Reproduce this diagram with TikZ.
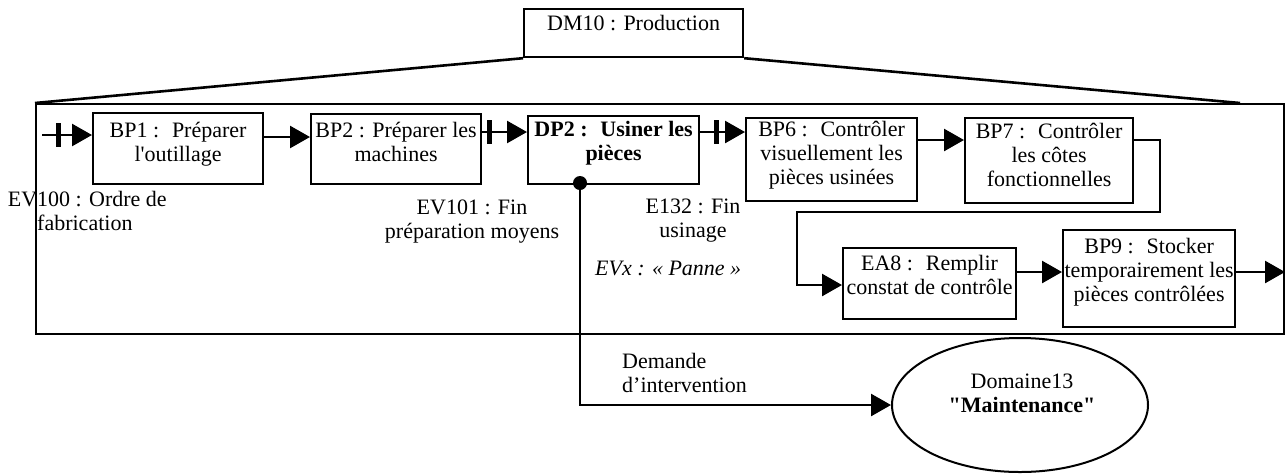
\documentclass[tikz,border=0pt]{standalone}
\usepackage{fontspec}
\setmainfont{Liberation Serif}
\usetikzlibrary{arrows.meta,shapes.geometric}
\newcommand{\dfont}{\fontsize{22}{24}\selectfont}
\begin{document}
\begin{tikzpicture}[x=1pt,y=-1pt,
  box/.style={draw, line width=2.2pt, anchor=north west, inner sep=0pt},
  txt/.style={font=\dfont, align=center, inner sep=0pt, execute at begin node={\dfont\strut}},
  conn/.style={line width=2.6pt},
  arr/.style={conn, -{Triangle[length=20pt,width=22pt]}},
  tickmark/.style={line width=5pt},
]
\useasboundingbox (0,0) rectangle (1288,475);
\fill[white] (0,0) rectangle (1288,475);

% domain header and frame
\node[box, minimum width=219pt, minimum height=48pt] (dm) at (523,8) {};
\node[txt, anchor=north] (dmt) at ([yshift=-5pt]dm.north) {DM10 : Production};
\node[draw, line width=2pt, anchor=north west, minimum width=1248pt, minimum height=230pt, inner sep=0pt] (frame) at (35,103) {};
\draw[line width=2.6pt] (dm.south west) -- (frame.north west);
\draw[line width=2.6pt] (dm.south east) -- ([xshift=-45pt]frame.north east);

% process boxes
\node[box, minimum width=170pt, minimum height=71pt] (bp1) at (92,112) {};
\node[box, minimum width=170pt, minimum height=70pt] (bp2) at (310,113) {};
\node[box, minimum width=171pt, minimum height=68pt] (dp2) at (527,115) {};
\node[box, minimum width=171pt, minimum height=83pt] (bp6) at (745,117) {};
\node[box, minimum width=168pt, minimum height=85pt] (bp7) at (964,117) {};
\node[box, minimum width=173pt, minimum height=71pt] (ea8) at (842,247) {};
\node[box, minimum width=172pt, minimum height=97pt] (bp9) at (1062,229) {};

\node[txt, anchor=north] (bp1t) at ([yshift=-10pt]bp1.north) {BP1 :~ Préparer\\l\textquotesingle outillage};
\node[txt, anchor=north] (bp2t) at ([yshift=-9pt]bp2.north) {BP2 : Préparer les\\machines};
\node[txt, anchor=north, font=\dfont\bfseries] (dp2t) at ([yshift=-6pt]dp2.north) {DP2 :~ Usiner les\\pièces};
\node[txt, anchor=north] (bp6t) at ([yshift=-4pt]bp6.north) {BP6 :~ Contrôler\\visuellement les\\pièces usinées};
\node[txt, anchor=north] (bp7t) at ([yshift=-6pt]bp7.north) {BP7 :~ Contrôler\\les côtes\\fonctionnelles};
\node[txt, anchor=north] (ea8t) at ([yshift=-8pt]ea8.north) {EA8 :~ Remplir\\constat de contrôle};
\node[txt, anchor=north] (bp9t) at ([yshift=-9pt]bp9.north) {BP9 :~ Stocker\\temporairement les\\pièces contrôlées};

% maintenance domain
\node[draw, ellipse, line width=2pt, minimum width=256pt, minimum height=134pt, inner sep=0pt] (ell) at (1020,405) {};
\node[txt, anchor=north] (ellt) at (1022,374) {Domaine13\\\textbf{\textquotedbl Maintenance\textquotedbl}};

% connectors
\coordinate (start) at (42,135);
\draw[arr] (start) -- coordinate[pos=0.32] (tk0) (bp1.west |- start);
\draw[arr] (bp1.east |- 0,137) -- (bp2.west |- 0,137);
\draw[arr] (bp2.east |- 0,132) -- coordinate[pos=0.17] (tk1) (dp2.west |- 0,132);
\draw[arr] (dp2.east |- 0,132) -- coordinate[pos=0.36] (tk2) (bp6.west |- 0,132);
\draw[arr] (bp6.east |- 0,140) -- (bp7.west |- 0,140);
\draw[arr] (bp7.east |- 0,140) -- (1160,140) -- (1160,212) -- (797,212) -- (797,285) -- (ea8.west |- 0,285);
\draw[arr] (ea8.east |- 0,272) -- (bp9.west |- 0,272);
\draw[arr] (bp9.east |- 0,272) -- (frame.east |- 0,272);
\foreach \t in {tk0,tk1,tk2} \draw[tickmark] ([yshift=12pt]\t) -- ([yshift=-12pt]\t);

\coordinate (dot) at (580,183);
\draw[arr] (dot) |- (ell.west);
\fill (dot) circle (7pt);

% event labels
\node[txt, align=left, anchor=north west] (ev100) at (37,191) {\llap{EV}100 : Ordre de\\fabrication};
\node[txt, anchor=north] (ev101) at (472,200) {EV101 : Fin\\préparation moyens};
\node[txt, anchor=north] (e132) at (693,199) {E132 : Fin\\usinage};
\node[txt, anchor=north west, font=\dfont\itshape] (evx) at (595,258) {EVx : « Panne »};
\node[txt, align=left, anchor=north west] (dem) at (622,353) {Demande\\d’intervention};
\end{tikzpicture}
\end{document}
